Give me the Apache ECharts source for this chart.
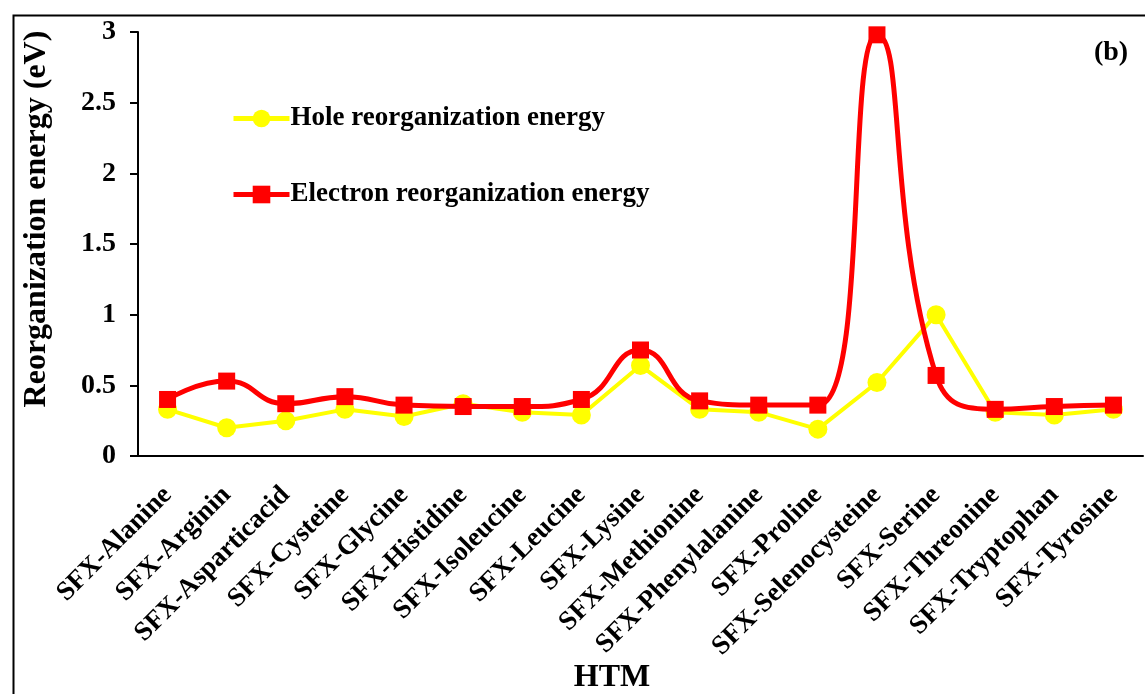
<!DOCTYPE html>
<html>
<head>
<meta charset="utf-8">
<script src="https://cdn.jsdelivr.net/npm/echarts@6/dist/echarts.min.js"></script>
<style>
  html, body { margin: 0; padding: 0; background: #fff; }
  #chart { width: 1145px; height: 694px; }
</style>
</head>
<body>
<div id="chart"></div>
<script>
// Reorganization energies (eV) of the SFX-based hole-transport materials
const categories = [
  'SFX-Alanine', 'SFX-Arginin', 'SFX-Asparticacid', 'SFX-Cysteine', 'SFX-Glycine',
  'SFX-Histidine', 'SFX-Isoleucine', 'SFX-Leucine', 'SFX-Lysine', 'SFX-Methionine',
  'SFX-Phenylalanine', 'SFX-Proline', 'SFX-Selenocysteine', 'SFX-Serine',
  'SFX-Threonine', 'SFX-Tryptophan', 'SFX-Tyrosine'
];
const holeEnergy = [0.33, 0.20, 0.25, 0.33, 0.28, 0.37, 0.31, 0.29, 0.64, 0.33, 0.31, 0.19, 0.52, 1.00, 0.31, 0.29, 0.33];
const electronEnergy = [0.40, 0.53, 0.37, 0.42, 0.36, 0.35, 0.35, 0.40, 0.75, 0.39, 0.36, 0.36, 2.98, 0.57, 0.33, 0.35, 0.36];
const yTicks = { min: 0, max: 3, interval: 0.5 };

const FONT = "'Liberation Serif', 'Times New Roman', serif";

const chart = echarts.init(document.getElementById('chart'), null, { renderer: 'canvas' });

chart.setOption({
  backgroundColor: '#ffffff',
  animation: false,
  grid: { left: 138, right: 2, top: 32, bottom: 238 },
  legend: {
    orient: 'vertical',
    left: 226,
    top: 100,
    itemGap: 49,
    itemWidth: 56,
    itemHeight: 22,
    lineStyle: { width: 5 },
    textStyle: { fontFamily: FONT, fontWeight: 'bold', fontSize: 27, color: '#000', padding: [0, 0, 0, -4] },
    data: ['Hole reorganization energy', 'Electron reorganization energy']
  },
  xAxis: {
    type: 'category',
    data: categories,
    boundaryGap: true,
    axisLine: { lineStyle: { color: '#000', width: 2 } },
    axisTick: { show: false },
    axisLabel: {
      rotate: 45,
      interval: 0,
      margin: 35,
      fontFamily: FONT,
      fontWeight: 'bold',
      fontSize: 27,
      color: '#000'
    },
    splitLine: { show: false }
  },
  yAxis: {
    type: 'value',
    min: yTicks.min,
    max: yTicks.max,
    interval: yTicks.interval,
    axisLine: { show: true, lineStyle: { color: '#000', width: 2 } },
    axisTick: { show: true, inside: false, length: 8, lineStyle: { color: '#000', width: 2 } },
    axisLabel: {
      margin: 22,
      fontFamily: FONT,
      fontWeight: 'bold',
      fontSize: 28,
      color: '#000'
    },
    splitLine: { show: false }
  },
  series: [
    {
      name: 'Hole reorganization energy',
      type: 'line',
      data: holeEnergy,
      smooth: false,
      symbol: 'circle',
      symbolSize: 19,
      itemStyle: { color: '#ffff00' },
      lineStyle: { color: '#ffff00', width: 4 },
      z: 2
    },
    {
      name: 'Electron reorganization energy',
      type: 'line',
      data: electronEnergy,
      smooth: 0.5,
      symbol: 'rect',
      symbolSize: 17,
      itemStyle: { color: '#ff0000' },
      lineStyle: { color: '#ff0000', width: 5 },
      z: 3
    }
  ],
  graphic: [
    {
      type: 'rect',
      left: 11, top: 13,
      shape: { width: 1160, height: 720 },
      style: { fill: 'none', stroke: '#000', lineWidth: 2 },
      silent: true
    },
    {
      type: 'text',
      x: 37, y: 219,
      rotation: Math.PI / 2,
      style: {
        text: 'Reorganization energy (eV)',
        fontFamily: FONT, fontWeight: 'bold', fontSize: 32, fill: '#000',
        align: 'center', verticalAlign: 'middle'
      }
    },
    {
      type: 'text',
      x: 612, y: 678,
      style: {
        text: 'HTM',
        fontFamily: FONT, fontWeight: 'bold', fontSize: 32, fill: '#000',
        align: 'center', verticalAlign: 'middle'
      }
    },
    {
      type: 'text',
      x: 1111, y: 53,
      style: {
        text: '(b)',
        fontFamily: FONT, fontWeight: 'bold', fontSize: 28, fill: '#000',
        align: 'center', verticalAlign: 'middle'
      }
    }
  ]
});
</script>
</body>
</html>
